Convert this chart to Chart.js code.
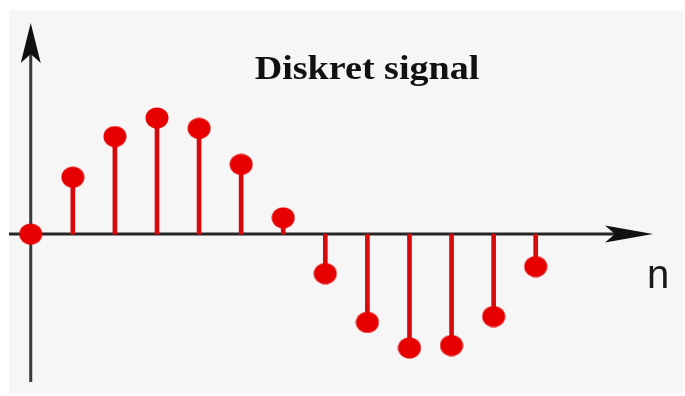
<!DOCTYPE html>
<html>
<head>
<meta charset="utf-8">
<script src="https://cdn.jsdelivr.net/npm/chart.js@4/dist/chart.umd.min.js"></script>
<style>
  html, body { margin: 0; padding: 0; background: #ffffff; }
  #wrap { width: 685px; height: 396px; }
</style>
</head>
<body>
<div id="wrap"><canvas id="c" width="685" height="396"></canvas></div>
<script>
// ---- data ----
const sampleIndex = [0, 1, 2, 3, 4, 5, 6, 7, 8, 9, 10, 11, 12];
const signalValues = [0, 0.49, 0.84, 1.00, 0.91, 0.60, 0.14, -0.34, -0.76, -0.98, -0.96, -0.71, -0.28];
const titleText = 'Diskret signal';
const axisLabelText = 'n';

const stemPoints = sampleIndex.map((n, i) => ({ x: n, y: signalValues[i] }));

// elliptical marker (the reference markers are slightly wider than tall)
const marker = document.createElement('canvas');
marker.width = 24; marker.height = 22;
(function () {
  const m = marker.getContext('2d');
  m.fillStyle = '#e60000';
  m.beginPath();
  m.ellipse(12, 11, 11.5, 10.5, 0, 0, Math.PI * 2);
  m.fill();
})();

const backgroundPlugin = {
  id: 'bg',
  beforeDraw(chart) {
    const { ctx } = chart;
    ctx.save();
    ctx.fillStyle = '#ffffff';
    ctx.fillRect(0, 0, chart.width, chart.height);
    ctx.fillStyle = '#f6f6f6';
    ctx.fillRect(9, 10, 674, 383);
    ctx.restore();
  }
};

const axesPlugin = {
  id: 'arrowAxes',
  beforeDatasetsDraw(chart) {
    const { ctx } = chart;
    const xs = chart.scales.x, ys = chart.scales.y;
    const y0 = ys.getPixelForValue(0);
    const x0 = xs.getPixelForValue(0);
    ctx.save();
    ctx.lineWidth = 3;
    // vertical axis
    ctx.strokeStyle = '#3a3a3a';
    ctx.beginPath();
    ctx.moveTo(x0, 382);
    ctx.lineTo(x0, 50);
    ctx.stroke();
    ctx.fillStyle = '#111111';
    ctx.beginPath();
    ctx.moveTo(x0, 23);
    ctx.lineTo(x0 + 10, 63);
    ctx.lineTo(x0, 54);
    ctx.lineTo(x0 - 10, 63);
    ctx.closePath();
    ctx.fill();
    // horizontal axis
    ctx.strokeStyle = '#262626';
    ctx.beginPath();
    ctx.moveTo(9, y0);
    ctx.lineTo(630, y0);
    ctx.stroke();
    ctx.beginPath();
    ctx.moveTo(653, y0);
    ctx.lineTo(605, y0 - 8.5);
    ctx.lineTo(615, y0);
    ctx.lineTo(605, y0 + 8.5);
    ctx.closePath();
    ctx.fill();
    ctx.restore();
  },
  afterDraw(chart) {
    const { ctx } = chart;
    ctx.save();
    // title (slightly stretched horizontally like the reference)
    ctx.fillStyle = '#111111';
    ctx.font = 'bold 34px "Liberation Serif", "Times New Roman", serif';
    ctx.textAlign = 'center';
    ctx.textBaseline = 'alphabetic';
    ctx.translate(367, 79);
    ctx.scale(1.12, 1);
    ctx.fillText(titleText, 0, 0);
    ctx.restore();
    ctx.save();
    ctx.fillStyle = '#1a1a1a';
    ctx.font = '40px "Liberation Sans", Arial, sans-serif';
    ctx.textAlign = 'center';
    ctx.textBaseline = 'alphabetic';
    ctx.fillText(axisLabelText, 658, 288);
    ctx.restore();
  }
};

new Chart(document.getElementById('c'), {
  data: {
    datasets: [
      {
        type: 'scatter',
        label: 'samples',
        data: stemPoints,
        pointStyle: marker,
        pointRadius: 11,
        order: 0
      },
      {
        type: 'bar',
        label: 'stems',
        data: stemPoints,
        backgroundColor: '#d60a0a',
        borderWidth: 0,
        barThickness: 4,
        grouped: false,
        order: 1
      }
    ]
  },
  options: {
    responsive: false,
    devicePixelRatio: 1,
    animation: false,
    layout: { autoPadding: false, padding: { left: 9.7, right: 2, top: 10, bottom: 4 } },
    plugins: { legend: { display: false }, tooltip: { enabled: false }, title: { display: false } },
    scales: {
      x: { type: 'linear', offset: false, min: -0.5, max: 15.5, display: false },
      y: { type: 'linear', min: -1.36, max: 1.93, display: false }
    }
  },
  plugins: [backgroundPlugin, axesPlugin]
});
</script>
</body>
</html>
